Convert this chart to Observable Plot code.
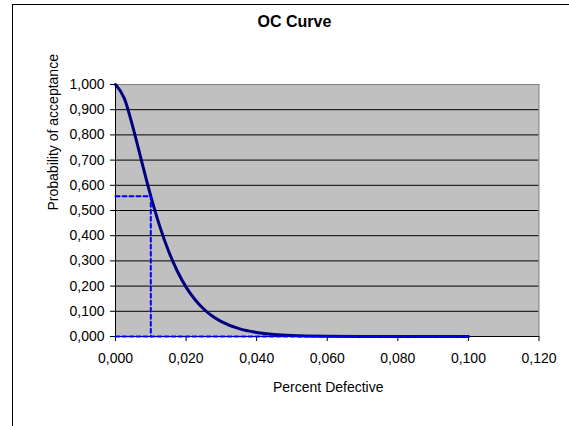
<!DOCTYPE html>
<html><head><meta charset="utf-8">
<script src="https://cdn.jsdelivr.net/npm/d3@7"></script>
<script src="https://cdn.jsdelivr.net/npm/@observablehq/plot@0.6"></script>
<style>
body{margin:0;background:#fff;font-family:"Liberation Sans",Arial,sans-serif;}
#wrap{position:relative;width:569px;height:426px;overflow:hidden;background:#fff;}
#frame{position:absolute;left:12px;top:4px;width:600px;height:500px;border:1px solid #000;box-sizing:border-box;}
#title{position:absolute;left:12px;width:565px;top:13px;text-align:center;font-weight:bold;font-size:16px;color:#000;}
#chart{position:absolute;left:0;top:0;}
</style></head><body>
<div id="wrap"><div id="frame"></div><div id="chart"></div><div id="title"></div></div>
<script>
const title = "OC Curve";
const xLabel = "Percent Defective";
const yLabel = "Probability of acceptance";
// OC curve: fraction defective vs probability of acceptance
const defective = [0, 0.0025, 0.005, 0.0075, 0.01, 0.0125, 0.015, 0.0175, 0.02, 0.0225, 0.025, 0.0275, 0.03, 0.035, 0.04, 0.045, 0.05, 0.06, 0.07, 0.08, 0.09, 0.1];
const acceptance = [1, 0.945, 0.827, 0.690, 0.557, 0.439, 0.340, 0.260, 0.196, 0.147, 0.109, 0.080, 0.059, 0.031, 0.016, 0.008, 0.004, 0.001, 0.0002, 0.00005, 0.00001, 0];
// dotted reference lines
const refX = [0, 0.01, 0.01];
const refY = [0.557, 0.557, 0];
const baseX = [0, 0.1];
const baseY = [0, 0];
const xTicks = [0, 0.02, 0.04, 0.06, 0.08, 0.10, 0.12];
const yTicks = [0, 0.1, 0.2, 0.3, 0.4, 0.5, 0.6, 0.7, 0.8, 0.9, 1.0];
const gridY = [0.1, 0.2, 0.3, 0.4, 0.5, 0.6, 0.7, 0.8, 0.9];

document.getElementById("title").textContent = title;
const curve = defective.map((x, i) => ({x, y: acceptance[i]}));
const ref = refX.map((x, i) => ({x, y: refY[i]}));
const base = baseX.map((x, i) => ({x, y: baseY[i]}));
const fmt = d => d3.format(".3f")(d).replace(".", ",");

const chart = Plot.plot({
  width: 569, height: 426,
  marginLeft: 115, marginRight: 30.5, marginTop: 84, marginBottom: 90,
  style: {fontFamily: '"Liberation Sans", Arial, sans-serif', fontSize: "14px", color: "#000", background: "transparent"},
  x: {domain: [0, 0.12]},
  y: {domain: [0, 1]},
  marks: [
    Plot.frame({fill: "#c0c0c0"}),
    Plot.ruleY(gridY, {stroke: "#000", strokeWidth: 1}),
    Plot.frame({stroke: "#808080", strokeWidth: 1}),
    Plot.ruleX([0], {stroke: "#000", strokeWidth: 1}),
    Plot.ruleY([0], {stroke: "#000", strokeWidth: 1}),
    Plot.axisX({ticks: xTicks, tickFormat: fmt, tickSize: 5, tickPadding: 12, label: null, stroke: "#000"}),
    Plot.axisY({ticks: yTicks, tickFormat: fmt, tickSize: 5, tickPadding: 6, label: null, stroke: "#000"}),
    Plot.line(curve, {x: "x", y: "y", stroke: "#000080", strokeWidth: 3, curve: "monotone-x"}),
    Plot.line(ref, {x: "x", y: "y", stroke: "#0000ff", strokeWidth: 2, strokeDasharray: "4,3"}),
    Plot.line(base, {x: "x", y: "y", stroke: "#0000ff", strokeWidth: 2, strokeDasharray: "4,3"}),
    Plot.text([xLabel], {frameAnchor: "bottom", lineAnchor: "middle", dy: 51, dx: 1, fontSize: 14, fill: "#000"}),
    Plot.text([yLabel], {frameAnchor: "left", rotate: -90, lineAnchor: "middle", dx: -62, fontSize: 14, fill: "#000"})
  ]
});
document.getElementById("chart").appendChild(chart);
</script>
</body></html>
